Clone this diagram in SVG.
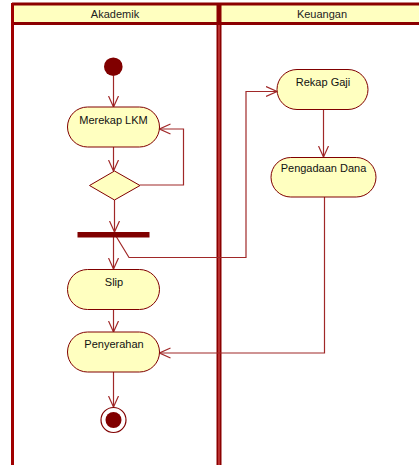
<svg xmlns="http://www.w3.org/2000/svg" width="419" height="465" viewBox="0 0 419 465">
<defs>
<style>
.lane{fill:#ffffc0;stroke:none}
.hdr{font-family:"Liberation Sans",Arial,sans-serif;font-size:11px;fill:#222;text-anchor:middle}
.act{fill:#ffffc0;stroke:#800000;stroke-width:1}
.lbl{font-family:"Liberation Sans",Arial,sans-serif;font-size:11px;fill:#111;text-anchor:middle}
.edge{fill:none;stroke:#a02828;stroke-width:1.2}
</style>
<marker id="arr" viewBox="0 0 12 12" refX="11" refY="6" markerWidth="12" markerHeight="12" markerUnits="userSpaceOnUse" orient="auto">
<path d="M0,1 L11,6 L0,11" fill="none" stroke="#a02828" stroke-width="1.2"/>
</marker>
</defs>
<rect x="0" y="0" width="419" height="465" fill="#ffffff"/>
<g id="swimlanes">
<rect class="lane" x="12" y="4" width="407" height="20"/>
<line x1="12" y1="4" x2="419" y2="4" stroke="#8b0000" stroke-width="3"/>
<line x1="12" y1="23.5" x2="419" y2="23.5" stroke="#8b0000" stroke-width="3"/>
<line x1="12.5" y1="3" x2="12.5" y2="465" stroke="#a00000" stroke-width="3"/>
<line x1="219" y1="3" x2="219" y2="465" stroke="#8b0000" stroke-width="5"/>
<line x1="219" y1="25" x2="219" y2="465" stroke="#c84040" stroke-width="1.5"/>
<text class="hdr" x="115" y="18">Akademik</text>
<text class="hdr" x="322" y="18">Keuangan</text>
</g>
<g id="connectors">
<line class="edge" x1="113.5" y1="76" x2="113.5" y2="107" marker-end="url(#arr)"/>
<line class="edge" x1="113.5" y1="147" x2="113.5" y2="171" marker-end="url(#arr)"/>
<polyline class="edge" points="140,185 183.5,185 183.5,129 159.5,129" marker-end="url(#arr)"/>
<line class="edge" x1="114.5" y1="200" x2="114.5" y2="232" marker-end="url(#arr)"/>
<line class="edge" x1="113.5" y1="237" x2="113.5" y2="269" marker-end="url(#arr)"/>
<polyline class="edge" points="116.5,237 129,257.5 246,257.5 246,91.5 277,91.5" marker-end="url(#arr)"/>
<line class="edge" x1="323.5" y1="109" x2="323.5" y2="157" marker-end="url(#arr)"/>
<polyline class="edge" points="324.5,197 324.5,353 159.5,353" marker-end="url(#arr)"/>
<line class="edge" x1="113.5" y1="309" x2="113.5" y2="332" marker-end="url(#arr)"/>
<line class="edge" x1="113.5" y1="372" x2="113.5" y2="407" marker-end="url(#arr)"/>
</g>
<g id="start">
<circle cx="113.3" cy="66.7" r="9.3" fill="#800000"/>
</g>
<g id="merekap-lkm">
<rect class="act" x="67.5" y="107" width="92" height="40" rx="20" ry="20"/>
<text class="lbl" x="113.5" y="124">Merekap LKM</text>
</g>
<g id="decision">
<polygon class="act" points="89.5,185.5 114.5,171 140,185.5 114.5,200"/>
</g>
<g id="fork">
<rect x="77.5" y="232" width="72" height="5.5" fill="#800000"/>
</g>
<g id="slip">
<rect class="act" x="67.5" y="269.5" width="92" height="40" rx="20" ry="20"/>
<text class="lbl" x="114" y="285.5">Slip</text>
</g>
<g id="penyerahan">
<rect class="act" x="67.5" y="332" width="92" height="40" rx="20" ry="20"/>
<text class="lbl" x="114" y="348">Penyerahan</text>
</g>
<g id="rekap-gaji">
<rect class="act" x="277" y="69.5" width="91" height="40" rx="20" ry="20"/>
<text class="lbl" x="323" y="86">Rekap Gaji</text>
</g>
<g id="pengadaan-dana">
<rect class="act" x="271" y="157.5" width="105" height="39.5" rx="19.75" ry="19.75"/>
<text class="lbl" x="323.5" y="172">Pengadaan Dana</text>
</g>
<g id="end">
<circle cx="113.5" cy="420" r="12.5" fill="#ffffff" stroke="#800000" stroke-width="1.2"/>
<circle cx="113.5" cy="420" r="8" fill="#800000"/>
</g>
</svg>
